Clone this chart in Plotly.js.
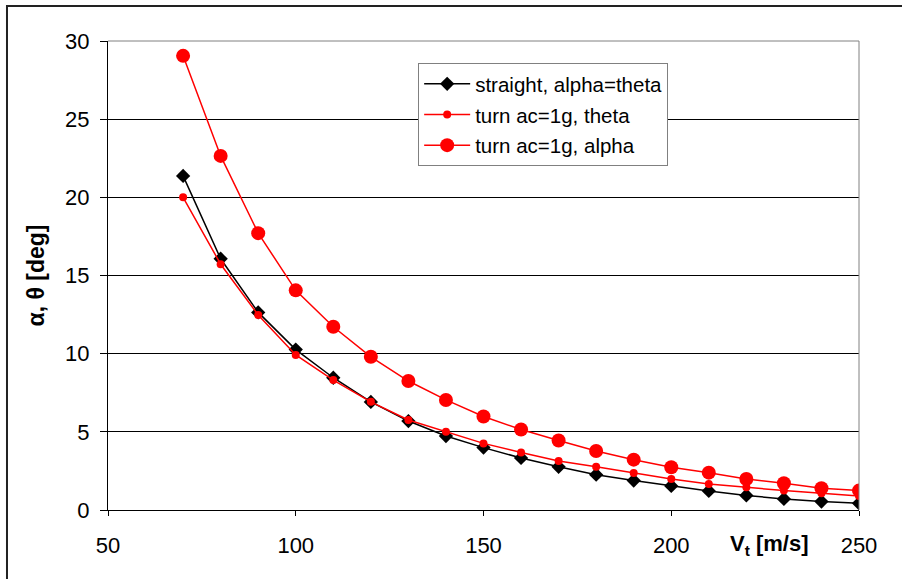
<!DOCTYPE html>
<html>
<head>
<meta charset="utf-8">
<script src="https://cdn.plot.ly/plotly-3.0.1.min.js"></script>
<style>html,body{margin:0;padding:0;background:#fff;}#chart{width:902px;height:579px;}</style>
</head>
<body>
<div id="chart"></div>
<script>
const speed = [70, 80, 90, 100, 110, 120, 130, 140, 150, 160, 170, 180, 190, 200, 210, 220, 230, 240, 250];
const straightAlphaTheta = [21.37, 16.07, 12.64, 10.26, 8.46, 6.91, 5.69, 4.73, 3.99, 3.33, 2.76, 2.26, 1.88, 1.54, 1.22, 0.93, 0.71, 0.54, 0.43];
const turnTheta = [20.0, 15.72, 12.48, 9.92, 8.31, 6.92, 5.76, 5.0, 4.26, 3.68, 3.13, 2.76, 2.37, 1.99, 1.67, 1.45, 1.24, 1.07, 0.9];
const turnAlpha = [29.05, 22.65, 17.71, 14.05, 11.72, 9.8, 8.25, 7.04, 5.98, 5.15, 4.45, 3.77, 3.22, 2.73, 2.39, 1.98, 1.71, 1.39, 1.24];
const seriesNames = ["straight, alpha=theta", "turn ac=1g, theta", "turn ac=1g, alpha"];
const xTicks = [50, 100, 150, 200, 250];
const yTicks = [0, 5, 10, 15, 20, 25, 30];

const FONT = "Liberation Sans, Arial, sans-serif";

const traces = [
  {x: speed, y: straightAlphaTheta, name: seriesNames[0], mode: "lines+markers", legendgroup: "a",
   line: {color: "#000000", width: 1.5}, marker: {symbol: "diamond", size: 11, color: "#000000"}},
  {x: speed, y: turnTheta, name: seriesNames[1], mode: "lines+markers", legendgroup: "b",
   line: {color: "#ff0000", width: 1.5}, marker: {symbol: "circle", size: 8, color: "#ff0000"}},
  {x: speed, y: turnAlpha, name: seriesNames[2], mode: "lines+markers", legendgroup: "c",
   line: {color: "#ff0000", width: 1.5}, marker: {symbol: "circle", size: 14, color: "#ff0000"}}
];

const layout = {
  width: 902, height: 579,
  margin: {l: 108, r: 43, t: 41, b: 69, pad: 0},
  paper_bgcolor: "#ffffff", plot_bgcolor: "#ffffff",
  font: {family: FONT, size: 21, color: "#000000"},
  showlegend: true,
  legend: {
    x: 0.413, y: 0.953, xanchor: "left", yanchor: "top",
    bgcolor: "#ffffff", bordercolor: "#808080", borderwidth: 1,
    font: {family: FONT, size: 20.5, color: "#000000"},
    traceorder: "grouped", tracegroupgap: 1, itemwidth: 46
  },
  xaxis: {
    range: [50, 250], tickvals: xTicks, ticktext: xTicks.map(String),
    showgrid: false, zeroline: false,
    showline: true, linecolor: "#000000", linewidth: 1,
    ticks: "outside", ticklen: 5, tickcolor: "#000000", tickwidth: 1,
    ticklabelstandoff: 11,
    tickfont: {family: FONT, size: 22, color: "#000000"}
  },
  yaxis: {
    range: [0, 30], tickvals: yTicks, ticktext: yTicks.map(String),
    showgrid: true, gridcolor: "#000000", gridwidth: 1, zeroline: false,
    showline: true, linecolor: "#000000", linewidth: 1,
    ticks: "outside", ticklen: 7, tickcolor: "#000000", tickwidth: 1,
    ticklabelstandoff: 6,
    tickfont: {family: FONT, size: 22, color: "#000000"}
  },
  shapes: [
    {type: "line", xref: "paper", yref: "paper", x0: 0, x1: 1, y0: 1, y1: 1, line: {color: "#808080", width: 1}, layer: "above"},
    {type: "line", xref: "paper", yref: "paper", x0: 1, x1: 1, y0: 0, y1: 1, line: {color: "#808080", width: 1}, layer: "above"},
    {type: "rect", xref: "paper", yref: "paper", x0: -0.1345, x1: 1.2, y0: -0.3, y1: 1.0746, line: {color: "#222222", width: 2}, fillcolor: "rgba(0,0,0,0)", layer: "above"}
  ],
  annotations: [
    {text: "<b>V<sub>t</sub> [m/s]</b>", xref: "paper", yref: "paper", x: 0.881, y: -0.0746,
     xanchor: "center", yanchor: "middle", showarrow: false, font: {family: FONT, size: 22, color: "#000000"}},
    {text: "<b>α, θ [deg]</b>", xref: "paper", yref: "paper", x: -0.0972, y: 0.5, textangle: -90,
     xanchor: "center", yanchor: "middle", showarrow: false, font: {family: FONT, size: 23, color: "#000000"}}
  ]
};

Plotly.newPlot("chart", traces, layout, {staticPlot: true, displayModeBar: false});
</script>
</body>
</html>
